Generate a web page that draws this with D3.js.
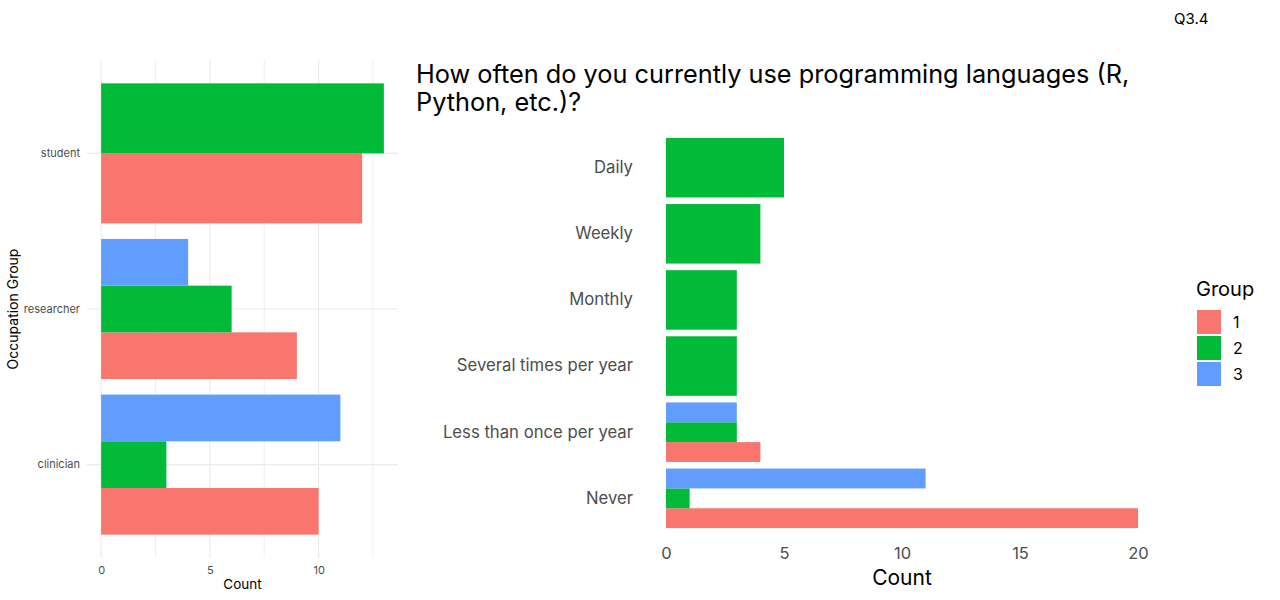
<!DOCTYPE html>
<html><head><meta charset="utf-8">
<script src="https://cdn.jsdelivr.net/npm/d3@7"></script>
<style>body{margin:0;background:#fff}svg{display:block;font-family:Inter,sans-serif}</style>
</head><body><svg id="c" width="1280" height="600"></svg>
<script>
// ---- data ----
const groups = ["1", "2", "3"];
const groupColors = ["#F8766D", "#00BA38", "#619CFF"];
const occupations = ["clinician", "researcher", "student"];
const occG1 = [10, 9, 12];
const occG2 = [3, 6, 13];
const occG3 = [11, 4, null];
const freqCats = ["Never", "Less than once per year", "Several times per year", "Monthly", "Weekly", "Daily"];
const freqG1 = [20, 4, null, null, null, null];
const freqG2 = [1, 3, 3, 3, 4, 5];
const freqG3 = [11, 3, null, null, null, null];
const leftTicks = [0, 5, 10];
const rightTicks = [0, 5, 10, 15, 20];
const titleLines = ["How often do you currently use programming languages (R,", "Python, etc.)?"];

const FONT = "Inter, sans-serif";
const svg = d3.select("#c");
const color = d3.scaleOrdinal().domain(groups).range(groupColors);

function dodge(cats, series) {
  const out = [];
  cats.forEach((c, i) => {
    const present = [];
    series.forEach((s, gi) => { if (s[i] != null) present.push({ g: groups[gi], v: s[i] }); });
    present.forEach((p, k) => out.push({ cat: c, g: p.g, v: p.v, k, n: present.length }));
  });
  return out;
}

// ---- left panel ----
const L = { x0: 87, x1: 398, y0: 60, y1: 558 };
const lx = d3.scaleLinear().domain([-0.65, 13.65]).range([L.x0, L.x1]);
const ly = d3.scaleBand().domain(occupations).range([L.y1, L.y0]).paddingInner(0).paddingOuter(0.1);
const lg = svg.append("g");
[2.5, 7.5, 12.5].forEach(t => lg.append("line").attr("x1", lx(t)).attr("x2", lx(t)).attr("y1", L.y0).attr("y2", L.y1).attr("stroke", "#EBEBEB").attr("stroke-width", 0.8));
[0, 5, 10].forEach(t => lg.append("line").attr("x1", lx(t)).attr("x2", lx(t)).attr("y1", L.y0).attr("y2", L.y1).attr("stroke", "#EBEBEB").attr("stroke-width", 1.2));
occupations.forEach(o => lg.append("line").attr("x1", L.x0).attr("x2", L.x1).attr("y1", ly(o) + ly.bandwidth() / 2).attr("y2", ly(o) + ly.bandwidth() / 2).attr("stroke", "#EBEBEB").attr("stroke-width", 1.2));
const lbars = dodge(occupations, [occG1, occG2, occG3]);
lg.selectAll("rect.b").data(lbars).join("rect")
  .attr("x", lx(0))
  .attr("width", d => lx(d.v) - lx(0))
  .attr("y", d => { const bw = ly.bandwidth() * 0.9 / d.n; const c = ly(d.cat) + ly.bandwidth() / 2; return c + ly.bandwidth() * 0.45 - (d.k + 1) * bw; })
  .attr("height", d => ly.bandwidth() * 0.9 / d.n)
  .attr("fill", d => color(d.g));
const lxa = d3.axisBottom(lx).tickValues(leftTicks).tickSize(0).tickPadding(0);
lg.append("g").attr("transform", `translate(0,${L.y1 + 8})`).call(lxa)
  .call(g => g.select(".domain").remove())
  .selectAll("text").attr("fill", "#4D4D4D").attr("font-size", 11).attr("font-family", FONT);
const lya = d3.axisLeft(ly).tickSize(0).tickPadding(7);
lg.append("g").attr("transform", `translate(${L.x0},0)`).call(lya)
  .call(g => g.select(".domain").remove())
  .selectAll("text").attr("fill", "#4D4D4D").attr("font-size", 11).attr("font-family", FONT);
lg.append("text").attr("x", (L.x0 + L.x1) / 2).attr("y", 589).attr("text-anchor", "middle").attr("font-size", 13.5).text("Count");
lg.append("text").attr("transform", `translate(18,${(L.y0 + L.y1) / 2}) rotate(-90)`).attr("text-anchor", "middle").attr("font-size", 14).text("Occupation Group");

// ---- right panel ----
const R = { y0: 128, y1: 538 };
const rx = d3.scaleLinear().domain([0, 20]).range([666, 1138]);
const ry = d3.scaleBand().domain(freqCats).range([R.y1, R.y0]).paddingInner(0).paddingOuter(0.1);
const rg = svg.append("g");
const rbars = dodge(freqCats, [freqG1, freqG2, freqG3]);
rg.selectAll("rect").data(rbars).join("rect")
  .attr("x", rx(0))
  .attr("width", d => rx(d.v) - rx(0))
  .attr("y", d => { const bw = ry.bandwidth() * 0.9 / d.n; const c = ry(d.cat) + ry.bandwidth() / 2; return c + ry.bandwidth() * 0.45 - (d.k + 1) * bw; })
  .attr("height", d => ry.bandwidth() * 0.9 / d.n)
  .attr("fill", d => color(d.g));
const rxa = d3.axisBottom(rx).tickValues(rightTicks).tickSize(0).tickPadding(0);
rg.append("g").attr("transform", `translate(0,${R.y1 + 9})`).call(rxa)
  .call(g => g.select(".domain").remove())
  .selectAll("text").attr("fill", "#4D4D4D").attr("font-size", 16.5).attr("font-family", FONT);
const rya = d3.axisLeft(ry).tickSize(0).tickPadding(0);
rg.append("g").attr("transform", `translate(633,0)`).call(rya)
  .call(g => g.select(".domain").remove())
  .selectAll("text").attr("fill", "#4D4D4D").attr("font-size", 16.7).attr("font-family", FONT);
rg.append("text").attr("x", rx(10)).attr("y", 585).attr("text-anchor", "middle").attr("font-size", 21).text("Count");
titleLines.forEach((t, i) => rg.append("text").attr("x", 416).attr("y", 83 + i * 28).attr("font-size", 25.3).text(t));

// ---- legend ----
const lgd = svg.append("g");
lgd.append("text").attr("x", 1196).attr("y", 296).attr("font-size", 20).text("Group");
groups.forEach((g, i) => {
  lgd.append("rect").attr("x", 1197).attr("y", 310 + i * 26).attr("width", 24).attr("height", 24).attr("fill", color(g));
  lgd.append("text").attr("x", 1233).attr("y", 328 + i * 26).attr("font-size", 16).text(g);
});
svg.append("text").attr("x", 1174).attr("y", 24).attr("font-size", 15).text("Q3.4");
</script></body></html>
